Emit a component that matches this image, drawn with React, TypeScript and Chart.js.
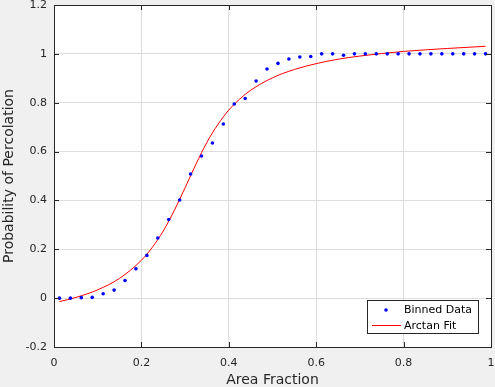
import React, { useEffect, useRef } from "react";
import { Chart, registerables } from "chart.js";

Chart.register(...registerables);

// Binned data (bin centres and probabilities)
const binX = [
  0.0125, 0.0375, 0.0625, 0.0875, 0.1125, 0.1375, 0.1625, 0.1875, 0.2125, 0.2375,
  0.2625, 0.2875, 0.3125, 0.3375, 0.3625, 0.3875, 0.4125, 0.4375, 0.4625, 0.4875,
  0.5125, 0.5375, 0.5625, 0.5875, 0.6125, 0.6375, 0.6625, 0.6875, 0.7125, 0.7375,
  0.7625, 0.7875, 0.8125, 0.8375, 0.8625, 0.8875, 0.9125, 0.9375, 0.9625, 0.9875,
];
const binY = [
  0.0, 0.0, 0.002, 0.003, 0.018, 0.033, 0.072, 0.12, 0.175, 0.246,
  0.322, 0.402, 0.508, 0.582, 0.635, 0.713, 0.795, 0.817, 0.889, 0.938,
  0.961, 0.979, 0.987, 0.989, 1.0, 1.0, 0.994, 1.0, 1.0, 1.0,
  1.0, 1.0, 1.0, 1.0, 1.0, 1.0, 1.0, 1.0, 1.0, 1.0,
];

// Arctan fit curve
const fitX = [
  0.0125, 0.05, 0.1, 0.15, 0.2, 0.225, 0.25, 0.275, 0.3, 0.325,
  0.35, 0.375, 0.4, 0.425, 0.45, 0.5, 0.55, 0.6, 0.65, 0.7,
  0.8, 0.9, 0.9875,
];
const fitY = [
  -0.014, 0.003, 0.034, 0.081, 0.155, 0.208, 0.275, 0.358, 0.452, 0.549,
  0.638, 0.711, 0.77, 0.815, 0.851, 0.902, 0.936, 0.96, 0.978, 0.991,
  1.01, 1.022, 1.031,
];

const xTicksStep = 0.2;
const yTicksStep = 0.2;
const xLabel = "Area Fraction";
const yLabel = "Probability of Percolation";
const legendLabels = ["Binned Data", "Arctan Fit"];

const FONT = "'DejaVu Sans', sans-serif";
const AXIS_COLOR = "#262626";
const GRID_COLOR = "#dedede";

const fmt = (v: number) => String(parseFloat(Number(v).toFixed(2)));

const bgPlugin = {
  id: "plotBg",
  beforeDraw(chart: any) {
    const { ctx, chartArea } = chart;
    ctx.save();
    ctx.fillStyle = "#ffffff";
    ctx.fillRect(chartArea.left, chartArea.top, chartArea.right - chartArea.left, chartArea.bottom - chartArea.top);
    ctx.restore();
  },
};

const boxPlugin = {
  id: "matlabBox",
  afterDatasetsDraw(chart: any) {
    const { ctx, chartArea } = chart;
    const { left, right, top, bottom } = chartArea;
    ctx.save();
    ctx.strokeStyle = AXIS_COLOR;
    ctx.lineWidth = 1;
    const tl = 5;
    const xs = chart.scales.x;
    const ys = chart.scales.y;
    ctx.beginPath();
    xs.ticks.forEach((t: any) => {
      const px = Math.round(xs.getPixelForValue(t.value)) + 0.5;
      ctx.moveTo(px, bottom);
      ctx.lineTo(px, bottom - tl);
      ctx.moveTo(px, top);
      ctx.lineTo(px, top + tl);
    });
    ys.ticks.forEach((t: any) => {
      const py = Math.round(ys.getPixelForValue(t.value)) + 0.5;
      ctx.moveTo(left, py);
      ctx.lineTo(left + tl, py);
      ctx.moveTo(right, py);
      ctx.lineTo(right - tl, py);
    });
    ctx.stroke();
    ctx.strokeRect(Math.round(left) + 0.5, Math.round(top) + 0.5, Math.round(right - left), Math.round(bottom - top));

    // legend
    const bx = Math.round(right) - 124;
    const by = Math.round(bottom) - 47;
    const bw = 111;
    const bh = 33;
    ctx.fillStyle = "#ffffff";
    ctx.fillRect(bx, by, bw, bh);
    ctx.strokeStyle = AXIS_COLOR;
    ctx.strokeRect(bx + 0.5, by + 0.5, bw, bh);
    const ds = chart.data.datasets;
    ctx.fillStyle = ds[0].backgroundColor;
    ctx.beginPath();
    ctx.arc(bx + 19, by + 10, 1.8, 0, Math.PI * 2);
    ctx.fill();
    ctx.strokeStyle = ds[1].borderColor;
    ctx.beginPath();
    ctx.moveTo(bx + 5, by + 25.5);
    ctx.lineTo(bx + 34, by + 25.5);
    ctx.stroke();
    ctx.fillStyle = "#000000";
    ctx.font = `11px ${FONT}`;
    ctx.textBaseline = "middle";
    ctx.textAlign = "left";
    ctx.fillText(ds[0].label, bx + 37, by + 10);
    ctx.fillText(ds[1].label, bx + 37, by + 26);
    ctx.restore();
  },
};

export default function App() {
  const ref = useRef<HTMLCanvasElement | null>(null);
  useEffect(() => {
    if (!ref.current) return;
    const chart = new Chart(ref.current, {
      type: "scatter",
      data: {
        datasets: [
          {
            label: legendLabels[0],
            data: binX.map((x, i) => ({ x, y: binY[i] })),
            backgroundColor: "#0000ff",
            borderColor: "#0000ff",
            pointRadius: 1.8,
            pointBorderWidth: 0,
            showLine: false,
            order: 1,
          },
          {
            label: legendLabels[1],
            data: fitX.map((x, i) => ({ x, y: fitY[i] })),
            borderColor: "#ff0000",
            backgroundColor: "#ff0000",
            borderWidth: 1,
            pointRadius: 0,
            showLine: true,
            cubicInterpolationMode: "monotone",
            order: 2,
          },
        ],
      },
      options: {
        animation: false,
        responsive: false,
        maintainAspectRatio: false,
        layout: { padding: { top: 5, right: 4, left: 0, bottom: 0 } },
        plugins: {
          legend: { display: false },
          tooltip: { enabled: false },
        },
        scales: {
          x: {
            type: "linear",
            min: 0,
            max: 1,
            afterFit: (s: any) => {
              s.height = 40;
              s.paddingLeft = 0;
              s.paddingRight = 0;
            },
            ticks: {
              stepSize: xTicksStep,
              color: AXIS_COLOR,
              font: { family: FONT, size: 11 },
              padding: 10,
              maxRotation: 0,
              callback: (v: any) => fmt(v),
            },
            grid: { color: GRID_COLOR, drawTicks: false },
            border: { display: false },
            title: {
              display: true,
              text: xLabel,
              color: AXIS_COLOR,
              font: { family: FONT, size: 14, lineHeight: 1 },
              padding: { top: 0, bottom: 0 },
            },
          },
          y: {
            type: "linear",
            min: -0.2,
            max: 1.2,
            afterFit: (s: any) => {
              s.width = 54;
              s.paddingTop = 0;
              s.paddingBottom = 0;
            },
            ticks: {
              stepSize: yTicksStep,
              color: AXIS_COLOR,
              font: { family: FONT, size: 11 },
              padding: 7,
              callback: (v: any) => fmt(v),
            },
            grid: { color: GRID_COLOR, drawTicks: false },
            border: { display: false },
            title: {
              display: true,
              text: yLabel,
              color: AXIS_COLOR,
              font: { family: FONT, size: 14, lineHeight: 1 },
              padding: { top: 2, bottom: 0 },
            },
          },
        },
      } as any,
      plugins: [bgPlugin, boxPlugin],
    });
    return () => chart.destroy();
  }, []);
  return (
    <div style={{ position: "absolute", left: 0, top: 0, width: 495, height: 387, background: "#f0f0f0" }}>
      <canvas ref={ref} width={495} height={387} style={{ width: 495, height: 387, display: "block" }} />
    </div>
  );
}
